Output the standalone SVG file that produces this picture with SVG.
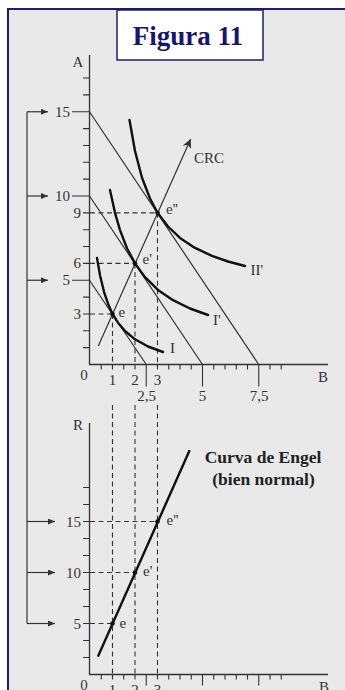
<svg xmlns="http://www.w3.org/2000/svg" width="345" height="690" viewBox="0 0 345 690">
<defs>
<style>
.t{font-family:"Liberation Serif","Times New Roman",serif;font-size:15px;fill:#333}
.r{text-anchor:end}
.m{text-anchor:middle}
.ax{stroke:#333;stroke-width:1.3;fill:none}
.tk{stroke:#333;stroke-width:1.1;fill:none}
.bl{stroke:#333;stroke-width:1.2;fill:none}
.ic{stroke:#111;stroke-width:2.4;fill:none;stroke-linejoin:round;stroke-linecap:round}
.ds{stroke:#333;stroke-width:1.1;stroke-dasharray:5 3.5;fill:none}
.br{stroke:#333;stroke-width:1.2;fill:none}
.eb{font-family:"Liberation Serif","Times New Roman",serif;font-size:17.5px;font-weight:bold;fill:#222;text-anchor:middle}
</style>
<marker id="ah" markerUnits="userSpaceOnUse" markerWidth="8" markerHeight="6" refX="7" refY="3" orient="auto">
<path d="M0,0 L7,3 L0,6 z" fill="#333"/>
</marker>
<marker id="ah2" markerUnits="userSpaceOnUse" markerWidth="10" markerHeight="9" refX="9" refY="4.5" orient="auto">
<path d="M0,0 L9,4.5 L0,9 L2.5,4.5 z" fill="#333"/>
</marker>
</defs>

<g id="frame">
<rect x="8" y="9" width="400" height="700" fill="#e9e9e9" stroke="#1c1c6e" stroke-width="2"/>
</g>
<g id="title">
<rect x="117" y="10" width="146" height="50" fill="#ffffff" stroke="#1c1c6e" stroke-width="1.5"/>
<text x="188" y="45" font-family="'Liberation Serif','Times New Roman',serif" font-size="27" font-weight="bold" fill="#16166b" text-anchor="middle">Figura 11</text>
</g>

<!-- Top chart axes -->
<g id="axis-top">
<path class="ax" d="M89.5,55 V364.5 H328"/>
<path class="tk" d="M83,347.65H89.5 M83,330.8H89.5 M83,314H89.5 M83,297.1H89.5 M72,280.25H89.5 M83,263.4H89.5 M83,246.55H89.5 M83,229.7H89.5 M83,212.85H89.5 M72,196H89.5 M83,179.15H89.5 M83,162.3H89.5 M83,145.45H89.5 M83,128.6H89.5 M72,111.75H89.5 M83,94.9H89.5 M83,78.05H89.5"/>
<path class="tk" d="M101.25,364.5v5 M112.5,364.5v5 M123.75,364.5v5 M135,364.5v5 M146.25,364.5v22 M157.5,364.5v5 M168.75,364.5v5 M180,364.5v5 M191.25,364.5v5 M202.5,364.5v22 M213.75,364.5v5 M225,364.5v5 M236.25,364.5v5 M247.5,364.5v5 M258.75,364.5v22 M270,364.5v5 M281.25,364.5v5"/>
<text class="t m" x="78" y="67">A</text>
<text class="t" x="318" y="382">B</text>
<text class="t m" x="84" y="380">0</text>
<text class="t m" x="112.5" y="385">1</text>
<text class="t m" x="135" y="385">2</text>
<text class="t m" x="157.5" y="385">3</text>
<text class="t m" x="146.5" y="401">2,5</text>
<text class="t m" x="202.5" y="401">5</text>
<text class="t m" x="259" y="401">7,5</text>
<text class="t r" x="70" y="116.8">15</text>
<text class="t r" x="70" y="201">10</text>
<text class="t r" x="81" y="217.9">9</text>
<text class="t r" x="81" y="268.4">6</text>
<text class="t r" x="70" y="285.3">5</text>
<text class="t r" x="81" y="319">3</text>
</g>

<!-- Bottom chart axes -->
<g id="axis-bottom">
<path class="ax" d="M89.5,423 V674.5 H328"/>
<path class="tk" d="M83,657.5H89.5 M83,640.5H89.5 M83,623.5H89.5 M83,606.5H89.5 M83,589.5H89.5 M83,572.5H89.5 M83,555.5H89.5 M83,538.5H89.5 M83,521.5H89.5 M83,504.5H89.5 M83,487.5H89.5"/>
<path class="tk" d="M101.25,674.5v5 M112.5,674.5v5 M123.75,674.5v5 M135,674.5v5 M146.25,674.5v11 M157.5,674.5v5 M168.75,674.5v5 M180,674.5v5 M191.25,674.5v5 M202.5,674.5v11 M213.75,674.5v5 M225,674.5v5 M236.25,674.5v5 M247.5,674.5v5 M258.75,674.5v11 M270,674.5v5 M281.25,674.5v5"/>
<text class="t m" x="78" y="430">R</text>
<text class="t" x="319" y="692">B</text>
<text class="t m" x="84" y="690">0</text>
<text class="t m" x="112.5" y="695">1</text>
<text class="t m" x="135" y="695">2</text>
<text class="t m" x="157.5" y="695">3</text>
<text class="t r" x="81" y="526.5">15</text>
<text class="t r" x="81" y="577.5">10</text>
<text class="t r" x="81" y="628.5">5</text>
</g>

<!-- Connectors: bracket arrows, dashed guides -->
<g id="connectors">
<path class="br" d="M27,111.75 V623.5"/>
<path class="br" marker-end="url(#ah)" d="M27,111.75 H48"/>
<path class="br" marker-end="url(#ah)" d="M27,196 H48"/>
<path class="br" marker-end="url(#ah)" d="M27,280.25 H48"/>
<path class="br" marker-end="url(#ah)" d="M27,521.5 H55"/>
<path class="br" marker-end="url(#ah)" d="M27,572.5 H55"/>
<path class="br" marker-end="url(#ah)" d="M27,623.5 H55"/>
<path class="ds" d="M90,212.85 H157.5 M90,263.4 H135 M90,314 H112.5"/>
<path class="ds" d="M157.5,212.85 V364.5 M135,263.4 V364.5 M112.5,314 V364.5"/>
<path class="ds" d="M112.5,405 V674.5 M135,405 V674.5 M157.5,405 V674.5"/>
<path class="ds" d="M90,521.5 H157.5 M90,572.5 H135 M90,623.5 H112.5"/>
</g>

<!-- Budget lines -->
<g id="budget-lines">
<path class="bl" d="M89.5,111.75 L258.75,364.5"/>
<path class="bl" d="M89.5,196 L202.5,364.5"/>
<path class="bl" d="M89.5,280.25 L146.25,364.5"/>
</g>

<!-- CRC -->
<g id="crc">
<path class="bl" marker-end="url(#ah2)" d="M98.3,345.9 L190.7,139"/>
<text class="t" x="194" y="163" font-size="16">CRC</text>
</g>

<!-- Indifference curves -->
<g id="curve-II">
<polyline class="ic" points="129.5,120 135,151 142,177.7 150,198.5 157.5,212.8 168,226.5 180,237.9 195,247.9 212,255.9 228,261.5 245,266"/>
<text class="t" x="250.5" y="275">II'</text>
</g>
<g id="curve-I1">
<polyline class="ic" points="110,190 115,212.8 120,230.1 127,248.2 135,263.4 145,277.2 158,289.9 173,300.2 190,308.5 208,315"/>
<text class="t" x="213" y="325">I'</text>
</g>
<g id="curve-I">
<polyline class="ic" points="97,258 100,275.3 104,291.8 108,303.7 112.5,314 118,322.7 125,331 135,339.3 148,346.5 163,352"/>
<text class="t" x="170" y="353">I</text>
</g>

<!-- Equilibrium points top -->
<g id="e-top">
<circle cx="112.5" cy="314" r="2.3" fill="#111"/>
<text class="t" x="118.5" y="317">e</text>
</g>
<g id="e1-top">
<circle cx="135" cy="263.4" r="2.3" fill="#111"/>
<text class="t" x="142.5" y="264">e'</text>
</g>
<g id="e2-top">
<circle cx="157.5" cy="212.85" r="2.3" fill="#111"/>
<text class="t" x="166" y="214">e''</text>
</g>

<!-- Engel curve -->
<g id="engel">
<path class="ic" d="M98.3,655.7 L189.3,451"/>
<text class="eb" x="263" y="463">Curva de Engel</text>
<text class="eb" x="263.5" y="485">(bien normal)</text>
</g>
<g id="e-bottom">
<circle cx="112.5" cy="623.5" r="2.3" fill="#111"/>
<text class="t" x="119.5" y="627.5">e</text>
</g>
<g id="e1-bottom">
<circle cx="135" cy="572.5" r="2.3" fill="#111"/>
<text class="t" x="143" y="576">e'</text>
</g>
<g id="e2-bottom">
<circle cx="157.5" cy="521.5" r="2.3" fill="#111"/>
<text class="t" x="166.5" y="525">e''</text>
</g>
</svg>
